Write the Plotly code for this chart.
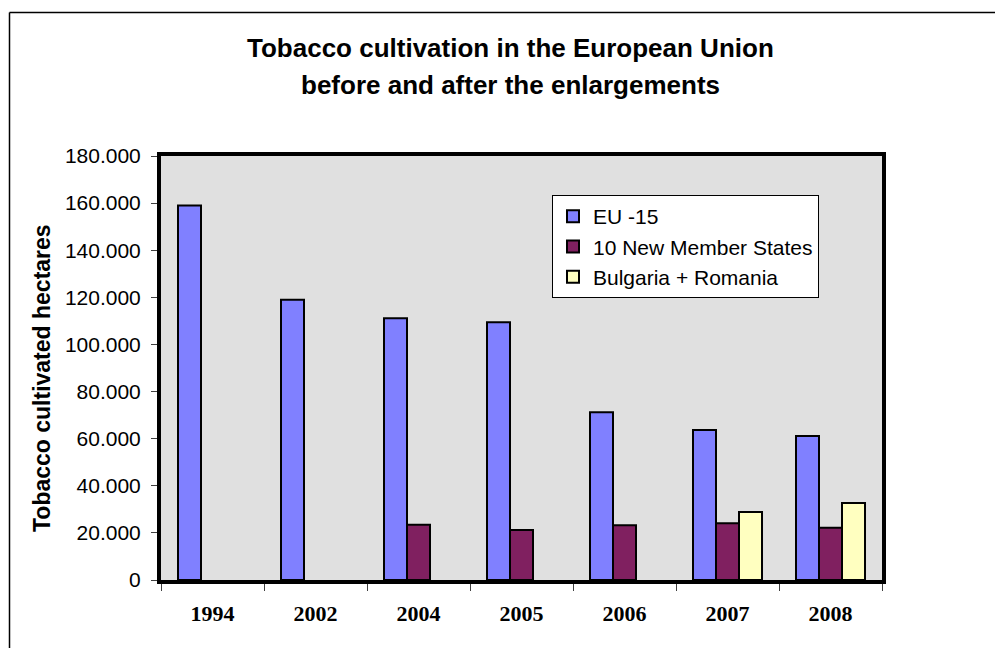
import plotly.graph_objects as go

# Tobacco cultivated area (hectares) per year and country group
years = ["1994", "2002", "2004", "2005", "2006", "2007", "2008"]
eu15 = [159000, 119000, 111100, 109400, 71200, 63700, 61100]
new_members_10 = [None, None, 23500, 21200, 23200, 24100, 22200]
bulgaria_romania = [None, None, None, None, None, 28900, 32700]

series_names = ["EU -15", "10 New Member States", "Bulgaria + Romania"]
series_colors = ["#8080FF", "#802060", "#FFFFC0"]
y_ticks = list(range(0, 180001, 20000))

W, H = 995, 648
L, R, T, B = 161, 882, 156, 580  # plot-area edges in pixels


def px_x(x):
    return (x - L) / (R - L)


def px_y(y):
    return (B - y) / (B - T)


fig = go.Figure()
for name, vals, col in zip(series_names, [eu15, new_members_10, bulgaria_romania], series_colors):
    fig.add_trace(go.Bar(
        x=years, y=vals, name=name, legendgroup=name,
        marker=dict(color=col, line=dict(color="black", width=2)),
    ))

sans = "Arial, Liberation Sans, sans-serif"

fig.update_layout(
    width=W, height=H,
    margin=dict(l=L, r=W - R, t=T, b=H - B, pad=0),
    paper_bgcolor="white",
    plot_bgcolor="#E0E0E0",
    barmode="group",
    bargap=0.33,
    bargroupgap=0,
    separators=",.",
    showlegend=True,
    legend=dict(
        x=px_x(552), y=px_y(195), xanchor="left", yanchor="top",
        bgcolor="white", bordercolor="black", borderwidth=1,
        font=dict(family=sans, size=21, color="black"),
        tracegroupgap=0, itemwidth=30,
    ),
    font=dict(family=sans, color="black"),
)

fig.update_xaxes(
    type="category",
    showline=True, linewidth=4, linecolor="black", mirror=True,
    ticks="outside", tickson="boundaries", ticklen=7, tickwidth=1, tickcolor="#404040",
    tickfont=dict(family="Times New Roman, Liberation Serif, serif", size=22, color="black",
                  weight="bold"),
    ticklabelstandoff=11,
    showgrid=False, zeroline=False,
)

fig.update_yaxes(
    range=[0, 180000],
    tickvals=y_ticks, tickformat=",d",
    showline=True, linewidth=4, linecolor="black", mirror=True,
    ticks="outside", ticklen=6, tickwidth=1, tickcolor="#404040",
    tickfont=dict(family=sans, size=21, color="black"),
    ticklabelstandoff=6,
    showgrid=False, zeroline=False,
)

# Chart title (two lines) and rotated y-axis title
fig.add_annotation(text="<b>Tobacco cultivation in the European Union</b>",
                   xref="paper", yref="paper", x=px_x(510), y=px_y(48),
                   xanchor="center", yanchor="middle", showarrow=False,
                   font=dict(family=sans, size=26, color="black"))
fig.add_annotation(text="<b>before and after the enlargements</b>",
                   xref="paper", yref="paper", x=px_x(510), y=px_y(85),
                   xanchor="center", yanchor="middle", showarrow=False,
                   font=dict(family=sans, size=26, color="black"))
fig.add_annotation(text="<b>Tobacco cultivated hectares</b>",
                   xref="paper", yref="paper", x=px_x(42), y=px_y(378),
                   xanchor="center", yanchor="middle", showarrow=False, textangle=-90,
                   font=dict(family=sans, size=23, color="black"))

# Outer chart frame (left and top edges)
fig.add_shape(type="line", xref="paper", yref="paper",
              x0=px_x(9.5), y0=px_y(H + 5), x1=px_x(9.5), y1=px_y(12.5),
              line=dict(color="black", width=1.5))
fig.add_shape(type="line", xref="paper", yref="paper",
              x0=px_x(9.5), y0=px_y(12.5), x1=px_x(W + 5), y1=px_y(12.5),
              line=dict(color="black", width=1.5))

fig.write_html("out.html")
